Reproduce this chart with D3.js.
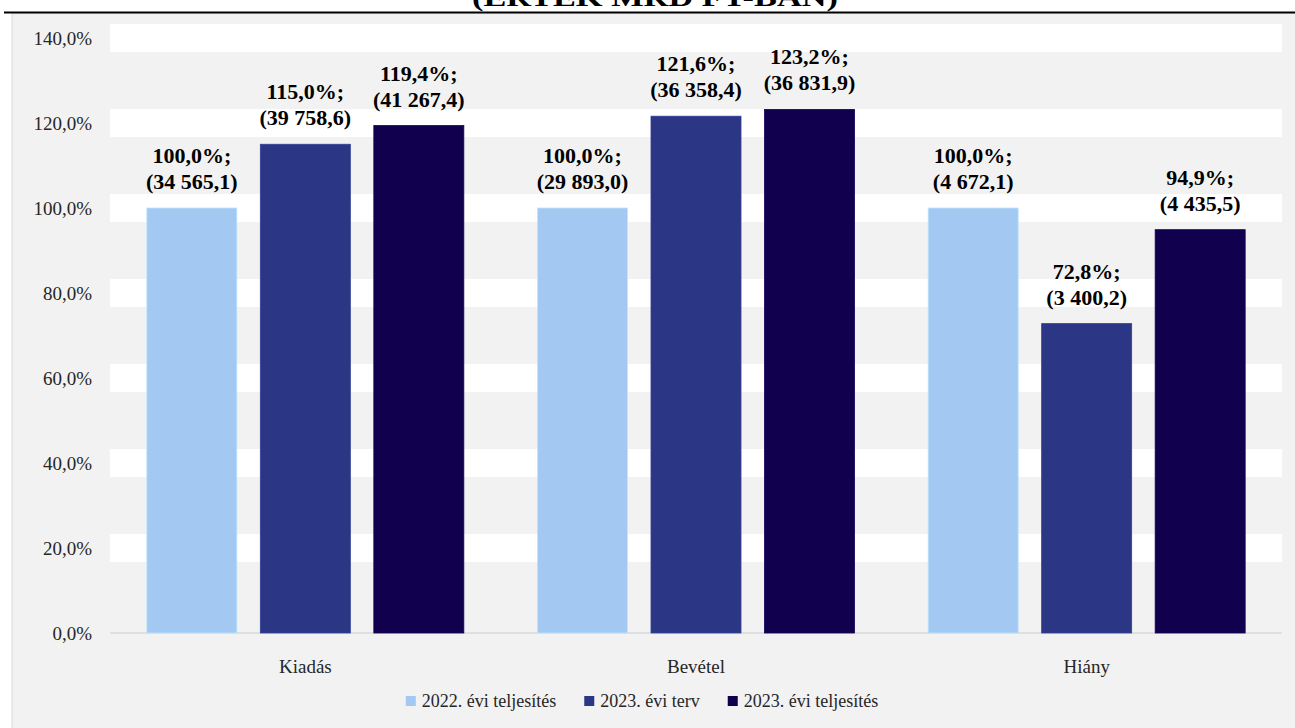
<!DOCTYPE html>
<html>
<head>
<meta charset="utf-8">
<script src="https://cdn.jsdelivr.net/npm/d3@7"></script>
<style>
	body { margin: 0; background: #fff; }
	svg text { font-family: "Liberation Serif", "DejaVu Serif", serif; }
</style>
</head>
<body>
<div id="chart"></div>
<script>
	var categories = ['Kiadás', 'Bevétel', 'Hiány'];
	var series = ['2022. évi teljesítés', '2023. évi terv', '2023. évi teljesítés'];
	var colors = ['#a3c8f1', '#2b3784', '#11004e'];
	// percent of 2022 value, per category, per series
	var percents = [
		[100.0, 115.0, 119.4],
		[100.0, 121.6, 123.2],
		[100.0, 72.8, 94.9]
	];
	// values in billion Ft
	var amounts = [
		[34565.1, 39758.6, 41267.4],
		[29893.0, 36358.4, 36831.9],
		[4672.1, 3400.2, 4435.5]
	];
	var yTicks = [0, 20, 40, 60, 80, 100, 120, 140];

	var serif = '"Liberation Serif", "DejaVu Serif", serif';
	var hu = d3.formatLocale({decimal: ',', thousands: ' ', grouping: [3], currency: ['', ' Ft']});
	var fmtPct = hu.format('.1f');
	var fmtAmt = hu.format(',.1f');

	var width = 1295, height = 728;
	var svg = d3.select('#chart').append('svg')
		.attr('width', width).attr('height', height)
		.attr('font-family', serif);

	// title, cut at top
	svg.append('text')
		.attr('x', 655).attr('y', 6)
		.attr('text-anchor', 'middle')
		.attr('font-size', 26).attr('font-weight', 'bold')
		.attr('textLength', 366).attr('lengthAdjust', 'spacingAndGlyphs')
		.text('(ÉRTÉK MRD FT-BAN)');

	svg.append('rect')
		.attr('x', 12).attr('y', 13).attr('width', width - 11).attr('height', height - 12)
		.attr('fill', '#f2f2f2').attr('stroke', '#d9d9d9');
	svg.append('line')
		.attr('x1', 4).attr('x2', width).attr('y1', 12.5).attr('y2', 12.5)
		.attr('stroke', '#000').attr('stroke-width', 2);

	var x0 = d3.scaleBand().domain(categories).range([110, 1282]);
	var x1 = d3.scaleBand().domain(series).range([0, x0.bandwidth()])
		.paddingInner(0.207).paddingOuter(0.3245);
	var y = d3.scaleLinear().domain([0, 140]).range([633, 38]);

	// white grid bands
	svg.append('g').selectAll('rect').data(yTicks.filter(function(d) { return d > 0; }))
		.enter().append('rect')
		.attr('x', 110).attr('width', 1172)
		.attr('y', function(d) { return y(d) - 14; })
		.attr('height', 28)
		.attr('fill', '#fff');

	svg.append('line')
		.attr('x1', 110).attr('x2', 1282).attr('y1', y(0)).attr('y2', y(0))
		.attr('stroke', '#d9d9d9').attr('stroke-width', 1.5);

	var yAxis = svg.append('g')
		.attr('transform', 'translate(92,0)')
		.call(d3.axisLeft(y).tickValues(yTicks).tickSize(0).tickPadding(0)
			.tickFormat(function(d) { return fmtPct(d) + '%'; }));
	yAxis.attr('font-family', serif).attr('font-size', 19);
	yAxis.select('.domain').remove();
	yAxis.selectAll('text').attr('fill', '#262626');

	var xAxis = svg.append('g')
		.attr('transform', 'translate(0,' + y(0) + ')')
		.call(d3.axisBottom(x0).tickSize(0).tickPadding(27));
	xAxis.attr('font-family', serif).attr('font-size', 19);
	xAxis.select('.domain').remove();
	xAxis.selectAll('text').attr('fill', '#262626');

	var rows = [];
	categories.forEach(function(c, i) {
		series.forEach(function(s, j) {
			rows.push({cat: c, ser: s, j: j, pct: percents[i][j], amt: amounts[i][j]});
		});
	});

	var bar = svg.append('g').selectAll('g').data(rows).enter().append('g')
		.attr('transform', function(d) { return 'translate(' + (x0(d.cat) + x1(d.ser)) + ',0)'; });

	bar.append('rect')
		.attr('x', 0)
		.attr('width', x1.bandwidth())
		.attr('y', function(d) { return y(d.pct); })
		.attr('height', function(d) { return y(0) - y(d.pct); })
		.attr('fill', function(d) { return colors[d.j]; })
		.attr('stroke', function(d) { return d3.color(colors[d.j]).brighter(0.4); })
		.attr('stroke-width', 0.8);

	var lbl = bar.append('text')
		.attr('text-anchor', 'middle')
		.attr('font-size', 22).attr('font-weight', 'bold').attr('fill', '#000');
	lbl.append('tspan')
		.attr('x', x1.bandwidth() / 2)
		.attr('y', function(d) { return y(d.pct) - 45; })
		.text(function(d) { return fmtPct(d.pct) + '%;'; });
	lbl.append('tspan')
		.attr('x', x1.bandwidth() / 2)
		.attr('y', function(d) { return y(d.pct) - 19; })
		.text(function(d) { return '(' + fmtAmt(d.amt) + ')'; });

	// legend, centred
	var legend = svg.append('g');
	var items = legend.selectAll('g').data(series).enter().append('g');
	items.append('rect').attr('width', 10).attr('height', 10).attr('y', -11)
		.attr('fill', function(d, i) { return colors[i]; });
	items.append('text').attr('x', 16).attr('font-size', 18).attr('fill', '#262626')
		.attr('font-family', serif)
		.text(function(d) { return d; });
	var lx = 0;
	items.each(function() {
		var g = d3.select(this);
		g.attr('transform', 'translate(' + lx + ',0)');
		lx += 16 + g.select('text').node().getComputedTextLength() + 28;
	});
	lx -= 28;
	legend.attr('transform', 'translate(' + (642 - lx / 2) + ',707)');
</script>
</body>
</html>
